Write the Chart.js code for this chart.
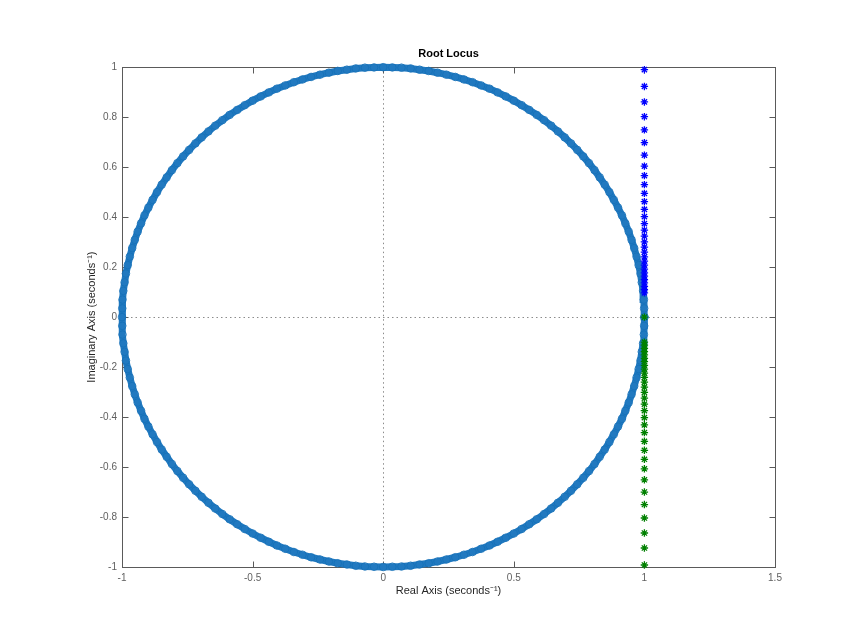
<!DOCTYPE html>
<html>
<head>
<meta charset="utf-8">
<script src="https://cdn.jsdelivr.net/npm/chart.js@4.4.1/dist/chart.umd.min.js"></script>
<style>
html,body{margin:0;padding:0;background:#fff;}
#c{display:block;}
</style>
</head>
<body>
<canvas id="c" width="857" height="638"></canvas>
<script>
// ---- data ----
const ringX = [
1.000,0.999,0.998,0.995,0.990,0.985,0.978,0.970,0.961,0.951,0.940,0.927,0.914,0.899,0.883,0.866,0.848,0.829,0.809,0.788,0.766,0.743,0.719,0.695,0.669,0.643,0.616,0.588,0.559,0.530,0.500,0.469,0.438,0.407,0.375,0.342,0.309,0.276,0.242,0.208,0.174,0.139,0.105,0.070,0.035,
0.000,-0.035,-0.070,-0.105,-0.139,-0.174,-0.208,-0.242,-0.276,-0.309,-0.342,-0.375,-0.407,-0.438,-0.469,-0.500,-0.530,-0.559,-0.588,-0.616,-0.643,-0.669,-0.695,-0.719,-0.743,-0.766,-0.788,-0.809,-0.829,-0.848,-0.866,-0.883,-0.899,-0.914,-0.927,-0.940,-0.951,-0.961,-0.970,-0.978,-0.985,-0.990,-0.995,-0.998,-0.999,
-1.000,-0.999,-0.998,-0.995,-0.990,-0.985,-0.978,-0.970,-0.961,-0.951,-0.940,-0.927,-0.914,-0.899,-0.883,-0.866,-0.848,-0.829,-0.809,-0.788,-0.766,-0.743,-0.719,-0.695,-0.669,-0.643,-0.616,-0.588,-0.559,-0.530,-0.500,-0.469,-0.438,-0.407,-0.375,-0.342,-0.309,-0.276,-0.242,-0.208,-0.174,-0.139,-0.105,-0.070,-0.035,
0.000,0.035,0.070,0.105,0.139,0.174,0.208,0.242,0.276,0.309,0.342,0.375,0.407,0.438,0.469,0.500,0.530,0.559,0.588,0.616,0.643,0.669,0.695,0.719,0.743,0.766,0.788,0.809,0.829,0.848,0.866,0.883,0.899,0.914,0.927,0.940,0.951,0.961,0.970,0.978,0.985,0.990,0.995,0.998,0.999,
1.000];
const ringY = [
0.000,0.035,0.070,0.105,0.139,0.174,0.208,0.242,0.276,0.309,0.342,0.375,0.407,0.438,0.469,0.500,0.530,0.559,0.588,0.616,0.643,0.669,0.695,0.719,0.743,0.766,0.788,0.809,0.829,0.848,0.866,0.883,0.899,0.914,0.927,0.940,0.951,0.961,0.970,0.978,0.985,0.990,0.995,0.998,0.999,
1.000,0.999,0.998,0.995,0.990,0.985,0.978,0.970,0.961,0.951,0.940,0.927,0.914,0.899,0.883,0.866,0.848,0.829,0.809,0.788,0.766,0.743,0.719,0.695,0.669,0.643,0.616,0.588,0.559,0.530,0.500,0.469,0.438,0.407,0.375,0.342,0.309,0.276,0.242,0.208,0.174,0.139,0.105,0.070,0.035,
0.000,-0.035,-0.070,-0.105,-0.139,-0.174,-0.208,-0.242,-0.276,-0.309,-0.342,-0.375,-0.407,-0.438,-0.469,-0.500,-0.530,-0.559,-0.588,-0.616,-0.643,-0.669,-0.695,-0.719,-0.743,-0.766,-0.788,-0.809,-0.829,-0.848,-0.866,-0.883,-0.899,-0.914,-0.927,-0.940,-0.951,-0.961,-0.970,-0.978,-0.985,-0.990,-0.995,-0.998,-0.999,
-1.000,-0.999,-0.998,-0.995,-0.990,-0.985,-0.978,-0.970,-0.961,-0.951,-0.940,-0.927,-0.914,-0.899,-0.883,-0.866,-0.848,-0.829,-0.809,-0.788,-0.766,-0.743,-0.719,-0.695,-0.669,-0.643,-0.616,-0.588,-0.559,-0.530,-0.500,-0.469,-0.438,-0.407,-0.375,-0.342,-0.309,-0.276,-0.242,-0.208,-0.174,-0.139,-0.105,-0.070,-0.035,
0.000];

const blueY = [0.990,0.923,0.861,0.802,0.749,0.698,0.648,0.604,0.566,0.530,0.495,0.462,0.431,0.402,0.374,0.348,0.324,0.301,0.280,0.260,0.241,0.224,0.208,0.192,0.177,0.164,0.150,0.137,0.123,0.110,0.097];
const greenY = [0.000,-0.100,-0.112,-0.125,-0.138,-0.151,-0.165,-0.178,-0.193,-0.208,-0.224,-0.241,-0.260,-0.280,-0.301,-0.324,-0.348,-0.374,-0.402,-0.431,-0.462,-0.497,-0.533,-0.569,-0.607,-0.651,-0.700,-0.750,-0.804,-0.864,-0.924,-0.992];
const starX = 1.0;

const xTicks = [-1, -0.5, 0, 0.5, 1, 1.5];
const yTicks = [-1, -0.8, -0.6, -0.4, -0.2, 0, 0.2, 0.4, 0.6, 0.8, 1];

const titleText = 'Root Locus';
const xTitle = 'Real Axis (seconds\u207B\u00B9)';
const yTitle = 'Imaginary Axis (seconds\u207B\u00B9)';

// ---- build ----
const FONT = "'Liberation Sans', Arial, Helvetica, sans-serif";
const ringPts = ringX.map((x, i) => ({x: x, y: ringY[i]}));
const bluePts = blueY.map(y => ({x: starX, y: y}));
const greenPts = greenY.map(y => ({x: starX, y: y}));

const framePlugin = {
  id: 'frame',
  beforeDatasetsDraw(chart) {
    const {ctx, chartArea: a, scales: {x, y}} = chart;
    ctx.save();
    // dotted zero lines
    ctx.strokeStyle = '#8c8c8c';
    ctx.lineWidth = 1;
    ctx.setLineDash([1.5, 3]);
    const x0 = Math.round(x.getPixelForValue(0)) + 0.5;
    const y0 = Math.round(y.getPixelForValue(0)) + 0.5;
    ctx.beginPath();
    ctx.moveTo(x0, a.top); ctx.lineTo(x0, a.bottom);
    ctx.moveTo(a.left, y0); ctx.lineTo(a.right, y0);
    ctx.stroke();
    ctx.setLineDash([]);
    // box
    ctx.strokeStyle = '#5a5a5a';
    ctx.lineWidth = 1;
    const L = Math.round(a.left) + 0.5, R = Math.round(a.right) + 0.5;
    const T = Math.round(a.top) + 0.5, B = Math.round(a.bottom) + 0.5;
    ctx.strokeRect(L, T, R - L, B - T);
    // inward ticks on all sides
    const tl = 6;
    ctx.beginPath();
    xTicks.forEach(v => {
      const px = Math.round(x.getPixelForValue(v)) + 0.5;
      ctx.moveTo(px, B); ctx.lineTo(px, B - tl);
      ctx.moveTo(px, T); ctx.lineTo(px, T + tl);
    });
    yTicks.forEach(v => {
      const py = Math.round(y.getPixelForValue(v)) + 0.5;
      ctx.moveTo(L, py); ctx.lineTo(L + tl, py);
      ctx.moveTo(R, py); ctx.lineTo(R - tl, py);
    });
    ctx.stroke();
    ctx.restore();
  }
};

new Chart(document.getElementById('c'), {
  type: 'scatter',
  data: {
    datasets: [
      {
        label: 'blue', data: bluePts, order: 1, clip: false,
        pointStyle: 'star', pointRadius: 3.7, borderWidth: 1.3,
        borderColor: '#0000ff', backgroundColor: '#0000ff', showLine: false
      },
      {
        label: 'green', data: greenPts, order: 2, clip: false,
        pointStyle: 'star', pointRadius: 3.7, borderWidth: 1.3,
        borderColor: '#008000', backgroundColor: '#008000', showLine: false
      },
      {
        label: 'ring', data: ringPts, order: 3, clip: false,
        showLine: true, borderColor: '#2179c0', borderWidth: 7,
        pointStyle: 'circle', pointRadius: 3.8, pointBorderWidth: 0.9,
        pointBorderColor: '#1571b8', pointBackgroundColor: 'rgba(0,0,0,0)'
      }
    ]
  },
  options: {
    responsive: false,
    animation: false,
    events: [],
    layout: {padding: {left: 85, right: 82, top: 0, bottom: 40}},
    plugins: {
      legend: {display: false},
      tooltip: {enabled: false},
      title: {
        display: true, text: titleText, fullSize: false, color: '#000',
        font: {family: FONT, size: 11, weight: 'bold', lineHeight: 1.2},
        padding: {top: 47, bottom: 7}
      }
    },
    scales: {
      x: {
        type: 'linear', min: -1, max: 1.5,
        grid: {display: false, drawTicks: false},
        border: {display: false},
        afterBuildTicks(s) { s.ticks = xTicks.map(v => ({value: v})); },
        afterFit(s) { s.height = 31; },
        ticks: {
          color: '#5f5f5f', padding: 5, maxRotation: 0, autoSkip: false,
          font: {family: FONT, size: 10},
          callback: v => String(v)
        },
        title: {
          display: true, text: xTitle, color: '#262626', padding: 0,
          font: {family: FONT, size: 11, lineHeight: 1.2}
        }
      },
      y: {
        type: 'linear', min: -1, max: 1,
        grid: {display: false, drawTicks: false},
        border: {display: false},
        afterBuildTicks(s) { s.ticks = yTicks.map(v => ({value: v})); },
        afterFit(s) { s.width = 37; },
        ticks: {
          color: '#5f5f5f', padding: 5, autoSkip: false,
          font: {family: FONT, size: 10},
          callback: v => String(v)
        },
        title: {
          display: true, text: yTitle, color: '#262626', padding: 0,
          font: {family: FONT, size: 11, lineHeight: 1.2}
        }
      }
    }
  },
  plugins: [framePlugin]
});
</script>
</body>
</html>
